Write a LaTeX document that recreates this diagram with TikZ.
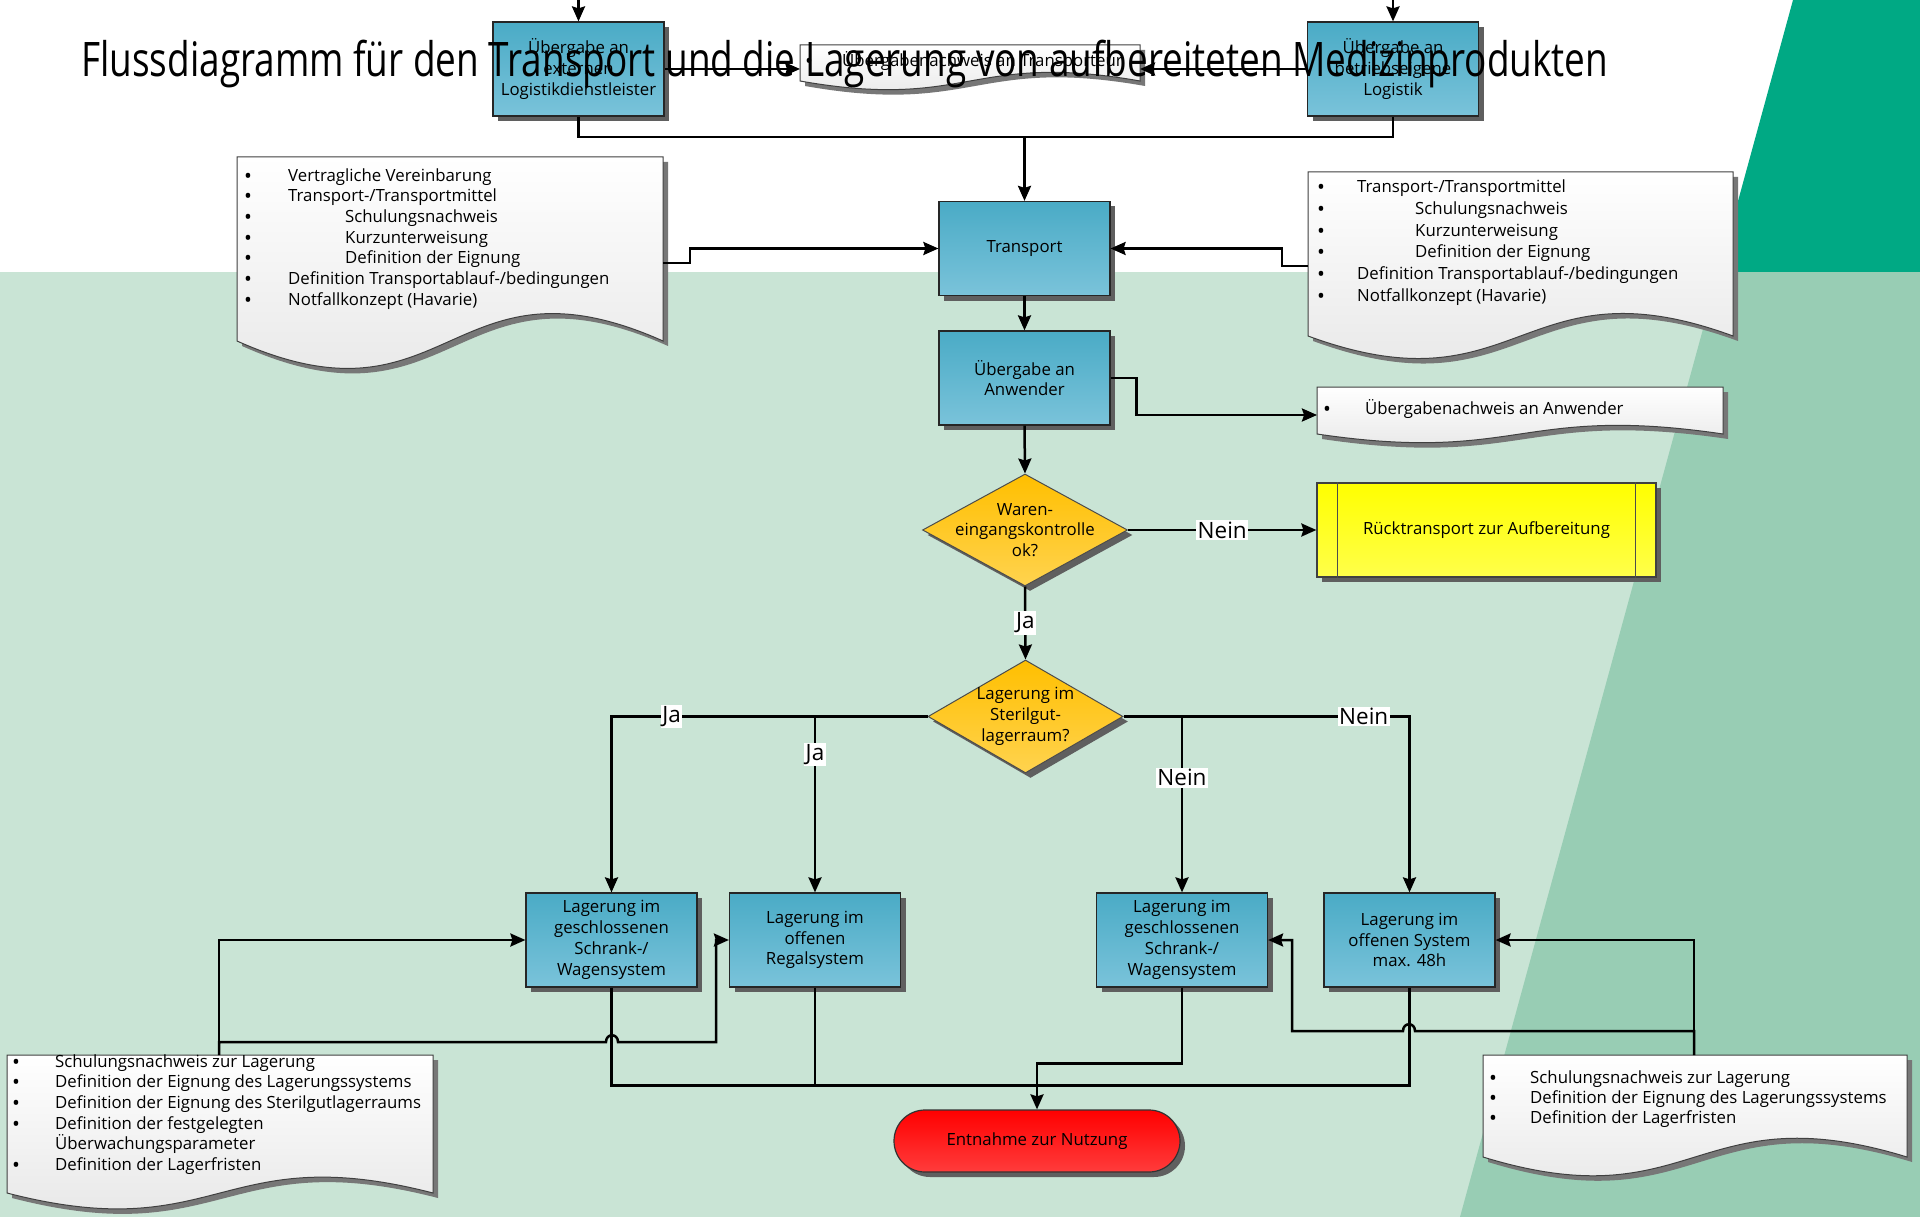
\documentclass[tikz,border=0pt]{standalone}
\usepackage{fontspec}
\usepackage{graphicx}
\setmainfont{Open Sans}
\usetikzlibrary{arrows.meta,shapes.geometric,shapes.misc,shadows,calc}
\definecolor{bgl}{HTML}{C9E4D5}
\definecolor{bgm}{HTML}{98CDB4}
\definecolor{tealA}{HTML}{00A984}
\definecolor{blueT}{HTML}{4AABC6}
\definecolor{blueB}{HTML}{7AC3DA}
\definecolor{orT}{HTML}{FFBF00}
\definecolor{orB}{HTML}{FFD34F}
\definecolor{yeT}{HTML}{FFFF00}
\definecolor{yeB}{HTML}{FFFF4A}
\definecolor{reT}{HTML}{FF0000}
\definecolor{reB}{HTML}{FF3C3C}
\definecolor{shd}{HTML}{5F5F5F}
\definecolor{docBot}{HTML}{E3E3E3}
\newcommand\boxfont{\fontsize{16.8}{20.8}\selectfont}
\newcommand\lfont[1]{\fontsize{16.8}{#1}\selectfont}
\newcommand\bul[1]{\makebox[#1][l]{\raisebox{-2pt}{\fontsize{21}{10}\selectfont •}}}
\newcommand\docshape[5]{%
  \fill[shd!85] ({#1+5},{#2+5}) -- ({#3+5},{#2+5}) -- ({#3+5},{#4+5}) .. controls ({(#1+#3)/2+5},{#4-#5+5}) and ({(#1+#3)/2+5},{#4+#5+5}) .. ({#1+5},{#4+5}) -- cycle;
  \shade[top color=white,bottom color=docBot] (#1,#2) -- (#3,#2) -- (#3,#4) .. controls ({(#1+#3)/2},{#4-#5}) and ({(#1+#3)/2},{#4+#5}) .. (#1,#4) -- cycle;
  \draw[black!75,line width=1pt] (#1,#2) -- (#3,#2) -- (#3,#4) .. controls ({(#1+#3)/2},{#4-#5}) and ({(#1+#3)/2},{#4+#5}) .. (#1,#4) -- cycle;
}
\tikzset{
  shadowed/.style={drop shadow={shadow xshift=5pt,shadow yshift=-5pt,fill=shd,opacity=1}},
  proc/.style={shape=rectangle,draw=black!85,line width=1.2pt,top color=blueT,bottom color=blueB,
    minimum width=171pt,minimum height=94pt,inner sep=0pt,align=center,font=\boxfont,shadowed},
  dec/.style={shape=diamond,draw=black!70,line width=1pt,top color=orT,bottom color=orB,
    inner sep=0pt,shadowed},
  dtext/.style={inner sep=0pt,align=center,font=\boxfont},
  ppr/.style={shape=rectangle,draw=black!75,line width=1.2pt,top color=yeT,bottom color=yeB,
    minimum width=339pt,minimum height=94pt,inner sep=0pt,font=\boxfont,shadowed},
  term/.style={shape=rounded rectangle,draw=black!80,line width=1.2pt,top color=reT,bottom color=reB,
    minimum width=286pt,minimum height=62pt,inner sep=0pt,font=\boxfont,shadowed},
  listtext/.style={anchor=north west,inner sep=0pt,align=left},
  conn/.style={line width=2.5pt,black},
  arr/.style={conn,-{Stealth[length=15pt,width=13pt,inset=2pt]}},
  lbl/.style={fill=white,inner sep=1.5pt,font=\fontsize{22.5}{24}\selectfont},
}
\begin{document}
\begin{tikzpicture}[x=1pt,y=-1pt]
\useasboundingbox (0,0) rectangle (1920,1217);
% background
\fill[white] (0,0) rectangle (1920,1217);
\fill[bgl] (0,272) rectangle (1920,1217);
\fill[tealA] (1793,0) -- (1920,0) -- (1920,272) -- (1718.6,272) -- cycle;
\fill[bgm] (1718.6,272) -- (1920,272) -- (1920,1217) -- (1460,1217) -- cycle;

% documents
\docshape{800}{45}{1140}{81}{30}
\docshape{237}{157}{663}{341}{95}
\docshape{1308}{172}{1733}{336}{78}
\docshape{1317}{387}{1723}{434}{30}
\docshape{7}{1055}{433}{1193}{55}
\docshape{1483}{1055}{1907}{1157}{65}

\node[anchor=base west,inner sep=0pt,font={\lfont{18}}] (docTt) at (805,67) {\bul{37pt}Übergabenachweis an Transporteur};
\node[listtext,font={\lfont{20.7}}] (docLt) at (244,166.5) {\strut\bul{44pt}Vertragliche Vereinbarung\\
\bul{44pt}Transport-/Transportmittel\\
\bul{44pt}\hspace{57pt}Schulungsnachweis\\
\bul{44pt}\hspace{57pt}Kurzunterweisung\\
\bul{44pt}\hspace{57pt}Definition der Eignung\\
\bul{44pt}Definition Transportablauf-/bedingungen\\
\bul{44pt}Notfallkonzept (Havarie)};
\node[listtext,font={\lfont{21.9}}] (docRt) at (1317,176.7) {\strut\bul{40pt}Transport-/Transportmittel\\
\bul{40pt}\hspace{58pt}Schulungsnachweis\\
\bul{40pt}\hspace{58pt}Kurzunterweisung\\
\bul{40pt}\hspace{58pt}Definition der Eignung\\
\bul{40pt}Definition Transportablauf-/bedingungen\\
\bul{40pt}Notfallkonzept (Havarie)};
\node[anchor=base west,inner sep=0pt,font={\lfont{18}}] (docAt) at (1323,414) {\bul{42pt}Übergabenachweis an Anwender};
\node[listtext,font={\lfont{20.6}}] (docBLt) at (12,1052.6) {\strut\bul{43pt}Schulungsnachweis zur Lagerung\\
\bul{43pt}Definition der Eignung des Lagerungssystems\\
\bul{43pt}Definition der Eignung des Sterilgutlagerraums\\
\bul{43pt}Definition der festgelegten\\
\hspace{43pt}Überwachungsparameter\\
\bul{43pt}Definition der Lagerfristen};
\node[listtext,font={\lfont{20}}] (docBRt) at (1489,1069) {\strut\bul{41pt}Schulungsnachweis zur Lagerung\\
\bul{41pt}Definition der Eignung des Lagerungssystems\\
\bul{41pt}Definition der Lagerfristen};

% attachment points on documents
\coordinate (docTw) at (800,69);
\coordinate (docTe) at (1140,69);
\coordinate (dLe) at (663,263);
\coordinate (dRw) at (1308,266);
\coordinate (dAw) at (1317,415);
\coordinate (bl) at (219,1055);
\coordinate (br) at (1694,1055);
\coordinate (t1) at (578.5,0);
\coordinate (t2) at (1393,0);

% process nodes
\node[proc] (b1) at (578.5,69) {Übergabe an\\externen\\Logistikdienstleister};
\node[proc] (b2) at (1393,69) {Übergabe an\\betriebseigene\\Logistik};
\node[proc] (tr) at (1024.5,248.5) {Transport};
\node[proc] (ua) at (1024.5,378) {Übergabe an\\Anwender};
\node[dec,minimum width=205pt,minimum height=112pt] (d1) at (1025,530) {};
\node[dtext] (d1t) at (1025,530) {Waren-\\eingangskontrolle\\ok?};
\node[ppr] (rt) at (1486.5,530) {Rücktransport zur Aufbereitung};
\draw[black!70,line width=1.2pt] ([xshift=21pt]rt.north west) -- ([xshift=21pt]rt.south west);
\draw[black!70,line width=1.2pt] ([xshift=-21pt]rt.north east) -- ([xshift=-21pt]rt.south east);
\node[dec,minimum width=195pt,minimum height=113pt] (d2) at (1025.5,716.5) {};
\node[dtext] (d2t) at (1025.5,716.5) {Lagerung im\\Sterilgut-\\lagerraum?};
\node[proc] (l1) at (611.5,940) {Lagerung im\\geschlossenen\\Schrank-/\\Wagensystem};
\node[proc] (l2) at (815,940) {Lagerung im\\offenen\\Regalsystem};
\node[proc] (r1) at (1182,940) {Lagerung im\\geschlossenen\\Schrank-/\\Wagensystem};
\node[proc] (r2) at (1409.5,940) {Lagerung im\\offenen System\\max. 48h};
\node[term] (en) at (1037,1141) {Entnahme zur Nutzung};

% connectors
\draw[arr] (t1) -- (b1.north);
\draw[arr] (t2) -- (b2.north);
\draw[arr] (b1.east) -- (docTw);
\draw[arr] (b2.west) -- (docTe);
\coordinate (j1) at (1024.5,137);
\draw[conn] (b1.south) |- (j1);
\draw[conn] (b2.south) |- (j1);
\draw[arr] (j1) -- (tr.north);
\draw[arr] (dLe) -- ++(27,0) |- (tr.west);
\draw[arr] (dRw) -- ++(-26,0) |- (tr.east);
\draw[arr] (tr.south) -- (ua.north);
\draw[arr] (ua.east) -- ++(26,0) |- (dAw);
\draw[arr] (ua.south) -- (d1.north);
\draw[arr] (d1.east) -- node[lbl] (lnein1) {Nein} (rt.west);
\draw[arr] (d1.south) -- node[lbl] (lja1) {Ja} (d2.north);
\draw[arr] (d2.west) -| node[lbl,pos=0.405] (lja2) {Ja} (l1.north);
\draw[arr] (l2.north |- d2.west) -- node[lbl,pos=0.218] (lja3) {Ja} (l2.north);
\draw[arr] (d2.east) -| node[lbl,pos=0.42] (lnein2) {Nein} (r2.north);
\draw[arr] (r1.north |- d2.east) -- node[lbl,pos=0.348] (lnein3) {Nein} (r1.north);

\coordinate (m) at ($(en.north)+(0,-24)$);
\draw[conn] (l1.south) |- (m);
\draw[conn] (l2.south) |- (m);
\draw[conn] (r2.south) |- (m);
\draw[arr] (r1.south) -- ++(0,76) -| (en.north);

\draw[arr] (bl) |- (l1.west);
\draw[arr] (bl) -- ++(0,-13) -- (606,1042) .. controls (606,1033) and (618,1033) .. (618,1042) -- (716,1042) |- (l2.west);
\draw[arr] (br) |- (r2.east);
\draw[arr] (br) -- ++(0,-24) -- (1415,1031) .. controls (1415,1022) and (1403,1022) .. (1403,1031) -- (1292,1031) |- (r1.east);

% title
\node[anchor=base west,inner sep=0pt] (title) at (81,77) {\fontsize{47.6}{52}\selectfont\resizebox{1527pt}{\height}{Flussdiagramm für den Transport und die Lagerung von aufbereiteten Medizinprodukten}};
\end{tikzpicture}
\end{document}
